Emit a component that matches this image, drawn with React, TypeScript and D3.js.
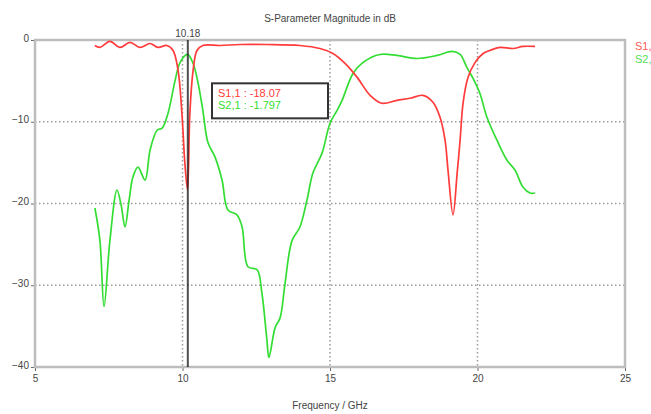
import React, { useEffect, useRef } from "react";
import * as d3 from "d3";

// S1,1 reflection (GHz, dB)
const s11Freq = [7.03, 7.2, 7.54, 7.88, 8.22, 8.56, 8.9, 9.17, 9.47, 9.68, 9.85, 9.98, 10.08, 10.17, 10.25, 10.36, 10.49, 10.69, 11.27, 11.95, 12.86, 13.98, 14.66, 15.1, 15.51, 15.92, 16.36, 16.76, 17.27, 17.71, 18.15, 18.49, 18.73, 18.9, 19.0, 19.17, 19.31, 19.41, 19.51, 19.68, 19.92, 20.19, 20.42, 20.76, 21.2, 21.54, 21.95];
const s11Db = [-0.67, -0.91, -0.18, -0.91, -0.3, -0.91, -0.43, -0.91, -0.67, -1.28, -3.72, -8.96, -15.06, -18.3, -8.96, -3.72, -1.28, -0.67, -0.67, -0.55, -0.55, -0.67, -1.04, -1.65, -2.87, -4.57, -6.77, -7.74, -7.38, -7.13, -6.77, -7.62, -9.45, -12.26, -15.91, -21.4, -16.28, -12.26, -7.74, -4.57, -2.74, -1.65, -1.28, -0.91, -1.04, -0.79, -0.79];

// S2,1 transmission
const s21Freq = [7.03, 7.2, 7.34, 7.54, 7.78, 7.92, 8.05, 8.19, 8.32, 8.49, 8.73, 8.9, 9.14, 9.31, 9.51, 9.75, 9.92, 10.17, 10.36, 10.53, 10.69, 10.86, 11.1, 11.34, 11.54, 11.85, 12.02, 12.22, 12.53, 12.69, 12.86, 12.93, 13.14, 13.31, 13.47, 13.71, 13.98, 14.22, 14.42, 14.73, 15.0, 15.24, 15.41, 15.78, 16.12, 16.69, 17.27, 17.95, 18.63, 19.14, 19.41, 19.64, 19.85, 20.08, 20.32, 20.66, 21.0, 21.27, 21.54, 21.78, 21.95];
const s21Db = [-20.55, -24.5, -32.6, -24.5, -18.35, -20.2, -22.87, -19.6, -16.77, -15.55, -17.13, -13.48, -11.04, -10.79, -8.96, -4.94, -2.74, -1.77, -2.87, -5.3, -8.6, -12.5, -14.3, -17.13, -20.79, -21.4, -22.87, -27.74, -28.11, -30.91, -36.65, -38.84, -35.18, -33.96, -29.94, -24.57, -22.87, -19.57, -16.28, -13.84, -10.18, -8.6, -7.38, -4.09, -2.74, -1.77, -1.89, -2.26, -1.89, -1.4, -1.77, -3.35, -4.7, -6.52, -9.45, -12.26, -14.7, -15.91, -17.99, -18.72, -18.72];

const xTicks = [5, 10, 15, 20, 25];
const yTicks = [0, -10, -20, -30, -40];
const gridX = [10, 15, 20];
const gridY = [-10, -20, -30];

const markerFreq = 10.18;
const markerLabels = ["S1,1 : -18.07", "S2,1 : -1.797"];
const legendLabels = ["S1,1", "S2,1"];

const RED = "#ff3b3b";
const GREEN = "#33dd33";

const W = 651;
const H = 414;

const App = () => {
  const svgRef = useRef(null);

  useEffect(() => {
    const margin = { top: 40, right: 26, bottom: 47, left: 35 };
    const x = d3.scaleLinear().domain([5, 25]).range([margin.left, W - margin.right]);
    const y = d3.scaleLinear().domain([-40, 0]).range([H - margin.bottom, margin.top]);

    const svg = d3.select(svgRef.current);
    svg.selectAll("*").remove();
    svg.style("font-family", "'Liberation Sans', Arial, sans-serif");

    // title
    svg.append("text")
      .attr("x", 330).attr("y", 22)
      .attr("text-anchor", "middle")
      .attr("font-size", 10)
      .attr("fill", "#444")
      .text("S-Parameter Magnitude in dB");

    // axes
    const xAxis = svg.append("g")
      .attr("transform", `translate(0,${y(-40)})`)
      .call(d3.axisBottom(x).tickValues(xTicks).tickSize(4).tickPadding(4));
    const yAxis = svg.append("g")
      .attr("transform", `translate(${x(5)},0)`)
      .call(d3.axisLeft(y).tickValues(yTicks).tickSize(4).tickPadding(2));
    [xAxis, yAxis].forEach((a) => {
      a.select(".domain").remove();
      a.selectAll("line").attr("stroke", "#666");
      a.selectAll("text")
        .attr("fill", "#444")
        .attr("font-size", 10)
        .style("font-family", "'Liberation Sans', Arial, sans-serif");
    });
    yAxis.selectAll("text").attr("dy", "0.1em");

    // grid
    const grid = svg.append("g")
      .attr("stroke", "#9a9a9a")
      .attr("stroke-width", 1.5)
      .attr("stroke-dasharray", "1.5,2.5");
    grid.selectAll(".gx").data(gridX).enter().append("line")
      .attr("x1", (d) => x(d)).attr("x2", (d) => x(d))
      .attr("y1", y(0)).attr("y2", y(-40));
    grid.selectAll(".gy").data(gridY).enter().append("line")
      .attr("x1", x(5)).attr("x2", x(25))
      .attr("y1", (d) => y(d)).attr("y2", (d) => y(d));

    // frame
    svg.append("rect")
      .attr("x", x(5)).attr("y", y(0))
      .attr("width", x(25) - x(5)).attr("height", y(-40) - y(0))
      .attr("fill", "none")
      .attr("stroke", "#bdbdbd")
      .attr("stroke-width", 2.5);

    // curves
    const lineGen = d3.line()
      .x((d) => x(d[0]))
      .y((d) => y(d[1]))
      .curve(d3.curveCatmullRom.alpha(0.5));

    const s21 = s21Freq.map((f, i) => [f, s21Db[i]]);
    const s11 = s11Freq.map((f, i) => [f, s11Db[i]]);

    svg.append("path").datum(s21)
      .attr("fill", "none").attr("stroke", GREEN).attr("stroke-width", 1.7)
      .attr("d", lineGen);
    svg.append("path").datum(s11)
      .attr("fill", "none").attr("stroke", RED).attr("stroke-width", 1.7)
      .attr("d", lineGen);

    // marker
    svg.append("line")
      .attr("x1", x(markerFreq)).attr("x2", x(markerFreq))
      .attr("y1", y(0)).attr("y2", y(-40))
      .attr("stroke", "#222").attr("stroke-opacity", 0.8).attr("stroke-width", 2);
    svg.append("text")
      .attr("x", x(markerFreq)).attr("y", 37)
      .attr("text-anchor", "middle")
      .attr("font-size", 10).attr("fill", "#444")
      .text(markerFreq.toFixed(2));

    const box = svg.append("g").attr("transform", `translate(${x(11.0)},${y(-5.3)})`);
    box.append("rect")
      .attr("width", 116).attr("height", 35)
      .attr("fill", "#fff").attr("stroke", "#333").attr("stroke-width", 2);
    box.selectAll("text").data(markerLabels).enter().append("text")
      .attr("x", 6).attr("y", (d, i) => 14 + i * 12)
      .attr("font-size", 11)
      .attr("fill", (d, i) => (i === 0 ? RED : GREEN))
      .text((d) => d);

    // legend
    svg.selectAll(".leg").data(legendLabels).enter().append("text")
      .attr("x", 635).attr("y", (d, i) => 50 + i * 13)
      .attr("font-size", 11)
      .attr("fill", (d, i) => (i === 0 ? "#ff5a5a" : "#55dd55"))
      .text((d) => d);

    // x label
    svg.append("text")
      .attr("x", 330).attr("y", 409)
      .attr("text-anchor", "middle")
      .attr("font-size", 10).attr("fill", "#444")
      .text("Frequency / GHz");
  }, []);

  return (
    <svg
      ref={svgRef}
      width={W}
      height={H}
      style={{ position: "absolute", left: 0, top: 0, background: "#fff", display: "block" }}
    />
  );
};

export default App;
